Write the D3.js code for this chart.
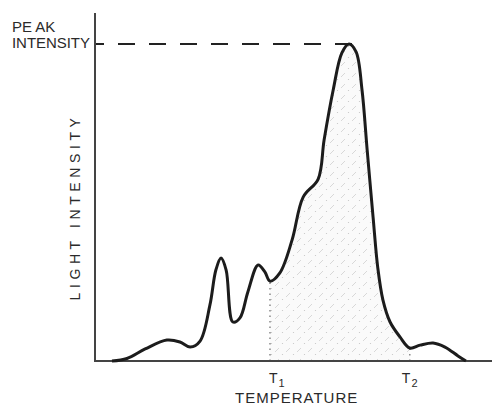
<!DOCTYPE html>
<html>
<head>
<meta charset="utf-8">
<script src="https://cdn.jsdelivr.net/npm/d3@7"></script>
<style>
  body { margin: 0; background: #fff; }
  text { font-family: "Liberation Sans", Arial, sans-serif; fill: #2a2a2a; }
</style>
</head>
<body>
<div id="vis"></div>
<script>
/*************** DATA ***************/
// glow curve: temperature (0-100) vs light intensity (peak = 100)
var temperature = [4.3, 8.1, 12.7, 18.2, 21.5, 24.1, 26.6, 29.1, 30.6, 31.9, 33.2, 34.9, 36.7, 38.7,
  41.3, 43.0, 44.3, 46.8, 49.9, 52.7, 56.5, 58.0, 60.3, 62.5, 64.3, 66.1, 67.6, 68.9, 70.4, 71.6,
  72.9, 74.7, 77.2, 79.7, 82.3, 85.6, 88.6, 91.9, 93.9];
var intensity = [0, 0.8, 3.8, 6.6, 6.0, 4.4, 6.3, 17.7, 28.7, 32.5, 28.7, 12.3, 13.6, 21.8,
  30.3, 28.1, 25.2, 27.8, 38.2, 51.7, 57.4, 69.7, 85.5, 97.2, 100, 97.5, 85.5, 66.6, 45.4, 29.3,
  19.2, 12.3, 7.6, 4.1, 5.0, 5.7, 4.4, 1.6, 0];

var markers = [{ name: 'T', sub: '1', t: 44.3, i: 25.2 }, { name: 'T', sub: '2', t: 79.7, i: 4.1 }];
var peakValue = 100;

var points = temperature.map((t, k) => ({ t: t, i: intensity[k] }));

/*************** CHART ***************/
const width = 497;
const height = 406;

const x = d3.scaleLinear().domain([0, 100]).range([95, 490]);
const y = d3.scaleLinear().domain([0, 100]).range([361, 44]);

const svg = d3.select('#vis').append('svg')
  .attr('width', width)
  .attr('height', height);

// hatch pattern for the area between T1 and T2
const defs = svg.append('defs');
const pat = defs.append('pattern')
  .attr('id', 'hatch')
  .attr('patternUnits', 'userSpaceOnUse')
  .attr('width', 11)
  .attr('height', 11);
pat.append('rect').attr('width', 11).attr('height', 11).attr('fill', '#fafafa');
pat.append('line')
  .attr('x1', 0).attr('y1', 11).attr('x2', 4).attr('y2', 7)
  .attr('stroke', '#cfcfcf').attr('stroke-width', 0.8);
pat.append('circle').attr('cx', 7.5).attr('cy', 2.5).attr('r', 0.6).attr('fill', '#c4c4c4');

defs.append('clipPath').attr('id', 'band')
  .append('rect')
  .attr('x', x(markers[0].t))
  .attr('y', 0)
  .attr('width', x(markers[1].t) - x(markers[0].t))
  .attr('height', height);

const curve = d3.curveCatmullRom.alpha(0.5);

const area = d3.area()
  .x(d => x(d.t))
  .y0(y(0))
  .y1(d => y(d.i))
  .curve(curve);

svg.append('path')
  .datum(points)
  .attr('d', area)
  .attr('fill', 'url(#hatch)')
  .attr('clip-path', 'url(#band)');

// dotted verticals at T1 / T2
svg.selectAll('.marker-line')
  .data(markers)
  .enter()
  .append('line')
  .attr('class', 'marker-line')
  .attr('x1', d => x(d.t)).attr('x2', d => x(d.t))
  .attr('y1', y(0)).attr('y2', d => y(d.i))
  .attr('stroke', '#777')
  .attr('stroke-width', 1.3)
  .attr('stroke-dasharray', '1.5,4');

// peak dashed line
svg.append('line')
  .attr('x1', x(0)).attr('x2', x(67.5))
  .attr('y1', y(peakValue)).attr('y2', y(peakValue))
  .attr('stroke', '#222')
  .attr('stroke-width', 2.2)
  .attr('stroke-dasharray', '17,14')
  .attr('stroke-dashoffset', 8);

// axes (plain lines, no ticks)
svg.append('line')
  .attr('x1', x(0)).attr('x2', x(0))
  .attr('y1', 13).attr('y2', y(0) + 1)
  .attr('stroke', '#444').attr('stroke-width', 2);
svg.append('line')
  .attr('x1', x(0) - 1).attr('x2', 492)
  .attr('y1', y(0)).attr('y2', y(0))
  .attr('stroke', '#444').attr('stroke-width', 2);

// the curve
const line = d3.line()
  .x(d => x(d.t))
  .y(d => y(d.i))
  .curve(curve);

svg.append('path')
  .datum(points)
  .attr('d', line)
  .attr('fill', 'none')
  .attr('stroke', '#1c1c1c')
  .attr('stroke-width', 3)
  .attr('stroke-linejoin', 'round');

/*************** LABELS ***************/
svg.append('text')
  .attr('x', 12).attr('y', 32)
  .style('font-size', '15px')
  .text('PE AK');
svg.append('text')
  .attr('x', 12).attr('y', 48)
  .style('font-size', '15px')
  .attr('textLength', 78)
  .text('INTENSITY');

svg.append('text')
  .attr('transform', 'translate(80,207) rotate(-90)')
  .attr('text-anchor', 'middle')
  .style('font-size', '14px')
  .style('letter-spacing', '4.6px')
  .text('LIGHT INTENSITY');

const lab = svg.selectAll('.marker-label')
  .data(markers)
  .enter()
  .append('text')
  .attr('class', 'marker-label')
  .attr('x', (d, k) => x(d.t) - (k === 0 ? 1 : 8))
  .attr('y', 383)
  .style('font-size', '14px');
lab.append('tspan').text(d => d.name);
lab.append('tspan')
  .attr('dy', 4)
  .attr('dx', 1)
  .style('font-size', '11px')
  .text(d => d.sub);

svg.append('text')
  .attr('x', 235).attr('y', 403)
  .style('font-size', '15px')
  .style('letter-spacing', '1px')
  .text('TEMPERATURE');
</script>
</body>
</html>
